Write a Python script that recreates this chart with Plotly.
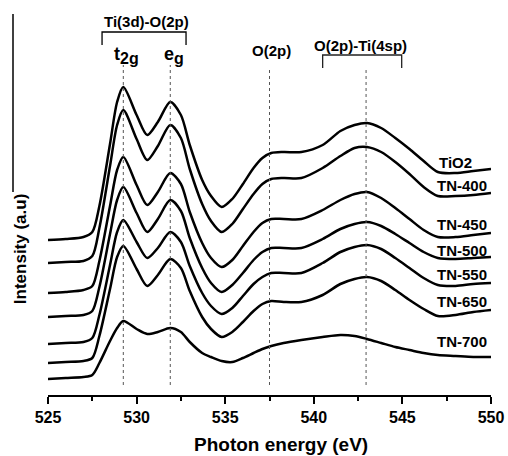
import plotly.graph_objects as go

energy = [525, 526, 527, 527.5, 527.9, 528.5, 528.9, 529.25, 530.0, 530.6, 531.2, 531.9,
          532.5, 533.0, 533.7, 534.2, 534.8, 535.4, 536.0, 536.6, 537.1, 537.6, 538.3, 539.3,
          540.5, 541.5, 542.3, 543.0, 543.8, 544.6, 545.4, 546.2, 547.0, 548.0, 549.0, 550.0]

tio2 = [160,161,163,168,194,256,298,313,285,265,278,298,285,255,220,204,193,201,216,232,
        242,247,248,248,255,269,275,277,272,262,251,239,228,227,229,231]
tn400 = [137,138,139,144,172,234,275,290,261,240,254,275,262,231,196,179,168,176,191,206,
         216,221,222,222,232,244,252,253,248,238,226,213,204,204,205,207]
tn450 = [107,108,110,114,139,194,230,243,215,195,208,227,216,188,157,142,133,140,154,168,
         177,181,181,181,190,200,206,208,202,192,181,170,163,163,165,167]
tn500 = [83,84,85,89,113,166,200,213,187,168,181,200,189,162,132,117,108,115,127,140,
         148,152,152,152,161,171,176,178,174,166,157,148,142,141,142,143]
tn550 = [56,57,58,62,85,135,168,180,158,142,152,168,158,134,107,94,86,92,104,116,
         123,127,127,127,137,148,153,155,151,142,132,122,115,114,116,117]
tn650 = [37,38,39,42,64,111,143,154,131,114,125,141,132,109,83,71,63,68,78,89,
         96,99,98,98,105,116,121,123,119,110,100,91,84,85,88,90]
tn700 = [21,22,23,25,37,59,72,79,71,66,68,72,68,58,47,43,39,38,42,47,
         51,54,57,60,63,65,64,61,57,53,50,47,45,44,43,43]

series = [tio2, tn400, tn450, tn500, tn550, tn650, tn700]
names = ["TiO2", "TN-400", "TN-450", "TN-500", "TN-550", "TN-650", "TN-700"]
label_y = [238, 215, 176, 150, 126, 99, 59]
label_x = [549.05, 549.9, 549.9, 549.9, 549.9, 549.9, 549.9]

peak_lines = [529.25, 531.9, 537.5, 542.95]
peak_tops = [335, 335, 333, 331]

x_ticks = [525, 530, 535, 540, 545, 550]

FONT = "Liberation Sans, Arial, Helvetica, sans-serif"

fig = go.Figure()
for ys, nm in zip(series, names):
    fig.add_trace(go.Scatter(x=energy, y=ys, mode="lines", name=nm,
                             line=dict(color="black", width=2.5, shape="spline", smoothing=0.8),
                             showlegend=False, hoverinfo="skip"))

shapes = []
for xv, top in zip(peak_lines, peak_tops):
    shapes.append(dict(type="line", xref="x", yref="y", x0=xv, x1=xv, y0=15, y1=top,
                       line=dict(color="#555", width=1, dash="dot")))
shapes.append(dict(type="path", xref="x", yref="y",
                   path="M 528.05 355 L 528.05 368 L 532.79 368 L 532.79 355",
                   line=dict(color="black", width=1.3)))
shapes.append(dict(type="path", xref="x", yref="y",
                   path="M 540.5 332 L 540.5 345 L 544.96 345 L 544.96 332",
                   line=dict(color="#222", width=1.3)))
shapes.append(dict(type="line", xref="paper", yref="paper", x0=-0.079, x1=-0.079,
                   y0=0.533, y1=1.0, line=dict(color="black", width=1.5)))

ann = []
bold = dict(family=FONT, size=15, color="black", weight="bold")
for nm, lx, ly in zip(names, label_x, label_y):
    ann.append(dict(x=lx, y=ly, xref="x", yref="y", text=nm, showarrow=False,
                    xanchor="right", yanchor="middle", font=bold))
ann.append(dict(x=530.56, y=379, xref="x", yref="y", text="Ti(3d)-O(2p)", showarrow=False,
                font=bold))
ann.append(dict(x=542.66, y=355, xref="x", yref="y", text="O(2p)-Ti(4sp)", showarrow=False,
                font=bold))
ann.append(dict(x=537.64, y=350, xref="x", yref="y", text="O(2p)", showarrow=False,
                font=bold))
big = dict(family=FONT, size=18, color="black", weight="bold")
ann.append(dict(x=529.45, y=345, xref="x", yref="y",
                text='t<sub><span style="font-size:16px">2g</span></sub>',
                showarrow=False, font=big))
ann.append(dict(x=532.1, y=345, xref="x", yref="y",
                text='e<sub><span style="font-size:16px">g</span></sub>',
                showarrow=False, font=big))
ann.append(dict(x=0.526, y=-0.131, xref="paper", yref="paper", text="Photon energy (eV)",
                showarrow=False, yanchor="middle",
                font=dict(family=FONT, size=19, color="black", weight="bold")))
ann.append(dict(x=-0.063, y=0.383, xref="paper", yref="paper", text="Intensity (a.u)",
                showarrow=False, textangle=-90, xanchor="center", yanchor="middle",
                font=dict(family=FONT, size=17, color="black", weight="bold")))

fig.update_layout(
    width=508, height=456,
    margin=dict(l=48, r=17, t=14, b=61, autoexpand=False),
    paper_bgcolor="white", plot_bgcolor="white",
    shapes=shapes, annotations=ann,
    xaxis=dict(range=[525, 550], tickvals=x_ticks, ticks="outside", ticklen=7, tickwidth=2,
               tickcolor="black", showline=True, linewidth=2, linecolor="black",
               showgrid=False, zeroline=False, automargin=False,
               tickfont=dict(family=FONT, size=16, color="black", weight="bold"),
               minor=dict(dtick=2.5, ticks="outside", ticklen=4, tickwidth=2, tickcolor="black",
                          showgrid=False)),
    yaxis=dict(range=[5, 386], showticklabels=False, ticks="", showline=False,
               showgrid=False, zeroline=False, automargin=False),
)

fig.write_html("out.html")
